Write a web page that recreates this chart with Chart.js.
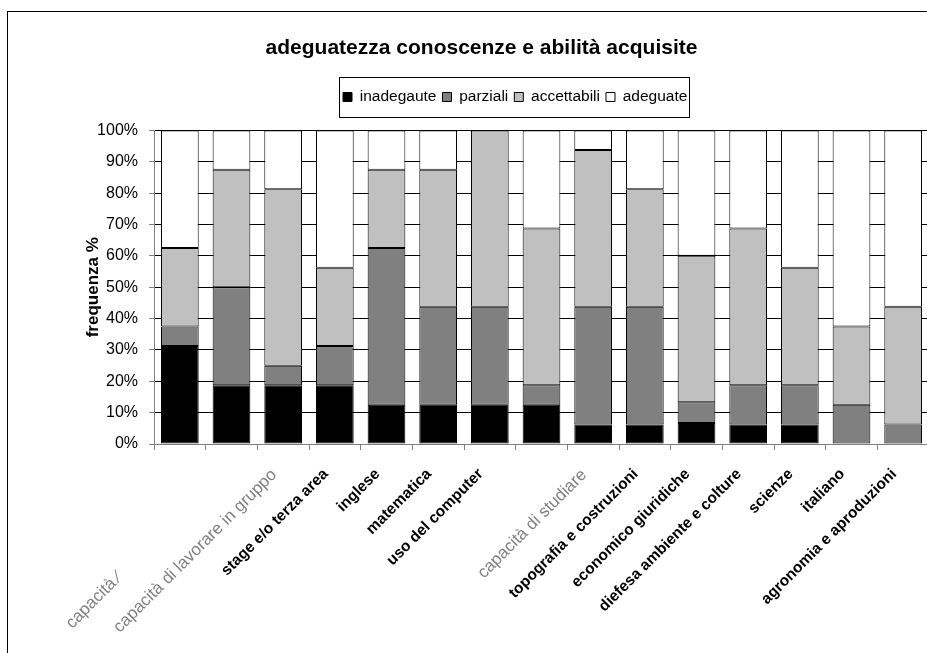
<!DOCTYPE html>
<html lang="it">
<head>
<meta charset="UTF-8">
<title>adeguatezza conoscenze e abilità acquisite</title>
<script src="https://cdn.jsdelivr.net/npm/chart.js"></script>
<style>
    body { margin: 0; background: #fff; overflow: hidden; }
    #cornice { position: absolute; left: 7px; top: 11px; width: 948px; height: 660px; border: 1px solid #000; }
</style>
</head>
<body>
<div id="cornice"><canvas id="grafico" width="948" height="660"></canvas></div>
<script>
    // categorie (due etichette non si leggono nel grafico originale)
    var categorie = ['', 'capacità ⁄', 'capacità di lavorare in gruppo', 'stage e/o terza area', 'inglese',
        'matematica', 'uso del computer', '', 'capacità di studiare', 'topografia e costruzioni',
        'economico giuridiche', 'diefesa ambiente e colture', 'scienze', 'italiano', 'agronomia e aproduzioni'];

    // frequenze %
    var inadeguate = [31.25, 18.75, 18.75, 18.75, 12.5, 12.5, 12.5, 12.5, 6.25, 6.25, 6.67, 6.25, 6.25, 0, 0];
    var parziali = [6.25, 31.25, 6.25, 12.5, 50, 31.25, 31.25, 6.25, 37.5, 37.5, 6.67, 12.5, 12.5, 12.5, 6.25];
    var accettabili = [25, 37.5, 56.25, 25, 25, 43.75, 56.25, 50, 50, 37.5, 46.67, 50, 37.5, 25, 37.5];
    var adeguate = [37.5, 12.5, 18.75, 43.75, 12.5, 12.5, 0, 31.25, 6.25, 18.75, 40, 31.25, 43.75, 62.5, 56.25];

    var etichetteGrigie = [1, 2, 8];

    var LEG_X = 335, LEG_Y = 85;

    // sposta titolo e legenda come nel grafico di Excel, e disegna il riquadro della legenda
    var ritocchi = {
        id: 'ritocchi',
        afterUpdate: function (chart) {
            var t = chart.titleBlock;
            var dxT = 473.5 - (t.left + t.right) / 2;
            t.left += dxT; t.right += dxT;

            var lg = chart.legend;
            if (!lg.legendHitBoxes.length) return;
            var b = lg.legendHitBoxes[0];
            var dx = LEG_X - b.left;
            var dy = LEG_Y - (b.top + b.height / 2);
            lg.left += dx; lg.right += dx; lg.top += dy; lg.bottom += dy;
        },
        afterDraw: function (chart) {
            var b = chart.legend.legendHitBoxes;
            var ultimo = b[b.length - 1];
            var ctx = chart.ctx;
            var x0 = LEG_X - 4;
            var x1 = Math.round(LEG_X + (ultimo.left - b[0].left) + ultimo.width + 2);
            ctx.save();
            ctx.strokeStyle = '#000';
            ctx.lineWidth = 1;
            ctx.strokeRect(x0 + 0.5, LEG_Y - 20 + 0.5, x1 - x0, 40);
            ctx.restore();
        }
    };

    new Chart(document.getElementById('grafico'), {
        type: 'bar',
        data: {
            labels: categorie,
            datasets: [
                { label: 'inadegaute', data: inadeguate, backgroundColor: '#000000' },
                { label: 'parziali', data: parziali, backgroundColor: '#808080' },
                { label: 'accettabili', data: accettabili, backgroundColor: '#c0c0c0' },
                { label: 'adeguate', data: adeguate, backgroundColor: '#ffffff' }
            ]
        },
        options: {
            responsive: false,
            animation: false,
            layout: { padding: { left: 71, right: 27, top: 0, bottom: 0 } },
            datasets: {
                bar: { borderColor: '#000', borderWidth: 1, borderSkipped: false, barPercentage: 0.73, categoryPercentage: 1 }
            },
            plugins: {
                title: {
                    display: true,
                    text: 'adeguatezza conoscenze e abilità acquisite',
                    color: '#000',
                    font: { family: 'Liberation Sans', size: 21, weight: 'bold' },
                    padding: { top: 23.4, bottom: 38.4 }
                },
                legend: {
                    labels: {
                        color: '#000',
                        font: { family: 'Liberation Sans', size: 15.5 },
                        boxWidth: 9,
                        boxHeight: 9,
                        padding: 6
                    }
                },
                tooltip: { enabled: false }
            },
            scales: {
                x: {
                    stacked: true,
                    grid: { drawOnChartArea: false, drawTicks: true, tickLength: 6, tickColor: '#808080' },
                    border: { color: '#808080' },
                    ticks: {
                        autoSkip: false,
                        minRotation: 45,
                        maxRotation: 45,
                        padding: 15,
                        labelOffset: -9,
                        callback: function (v, i) {
                            var s = categorie[i];
                            // il testo originale prosegue invisibile fino alla tacca
                            if (i === 1) s = s + '\u00a0'.repeat(31);
                            return s;
                        },
                        color: function (c) { return etichetteGrigie.indexOf(c.index) >= 0 ? '#808080' : '#000'; },
                        font: function (c) {
                            return etichetteGrigie.indexOf(c.index) >= 0
                                ? { family: 'Liberation Sans', size: 17, weight: 'normal' }
                                : { family: 'Liberation Sans', size: 15.5, weight: 'bold' };
                        }
                    },
                    afterFit: function (s) { s.height = 228; }
                },
                y: {
                    stacked: true,
                    min: 0,
                    max: 100,
                    grid: { color: '#000', tickLength: 5, tickColor: '#808080' },
                    border: { color: '#808080' },
                    ticks: {
                        stepSize: 10,
                        padding: 11,
                        color: '#000',
                        font: { family: 'Liberation Sans', size: 16 },
                        callback: function (v) { return v + '%'; }
                    },
                    title: {
                        display: true,
                        text: 'frequenza %',
                        color: '#000',
                        font: { family: 'Liberation Sans', size: 17, weight: 'bold' },
                        padding: { top: 4, bottom: 4 }
                    },
                    afterFit: function (s) { s.width = 75; }
                }
            }
        },
        plugins: [ritocchi]
    });
</script>
</body>
</html>
